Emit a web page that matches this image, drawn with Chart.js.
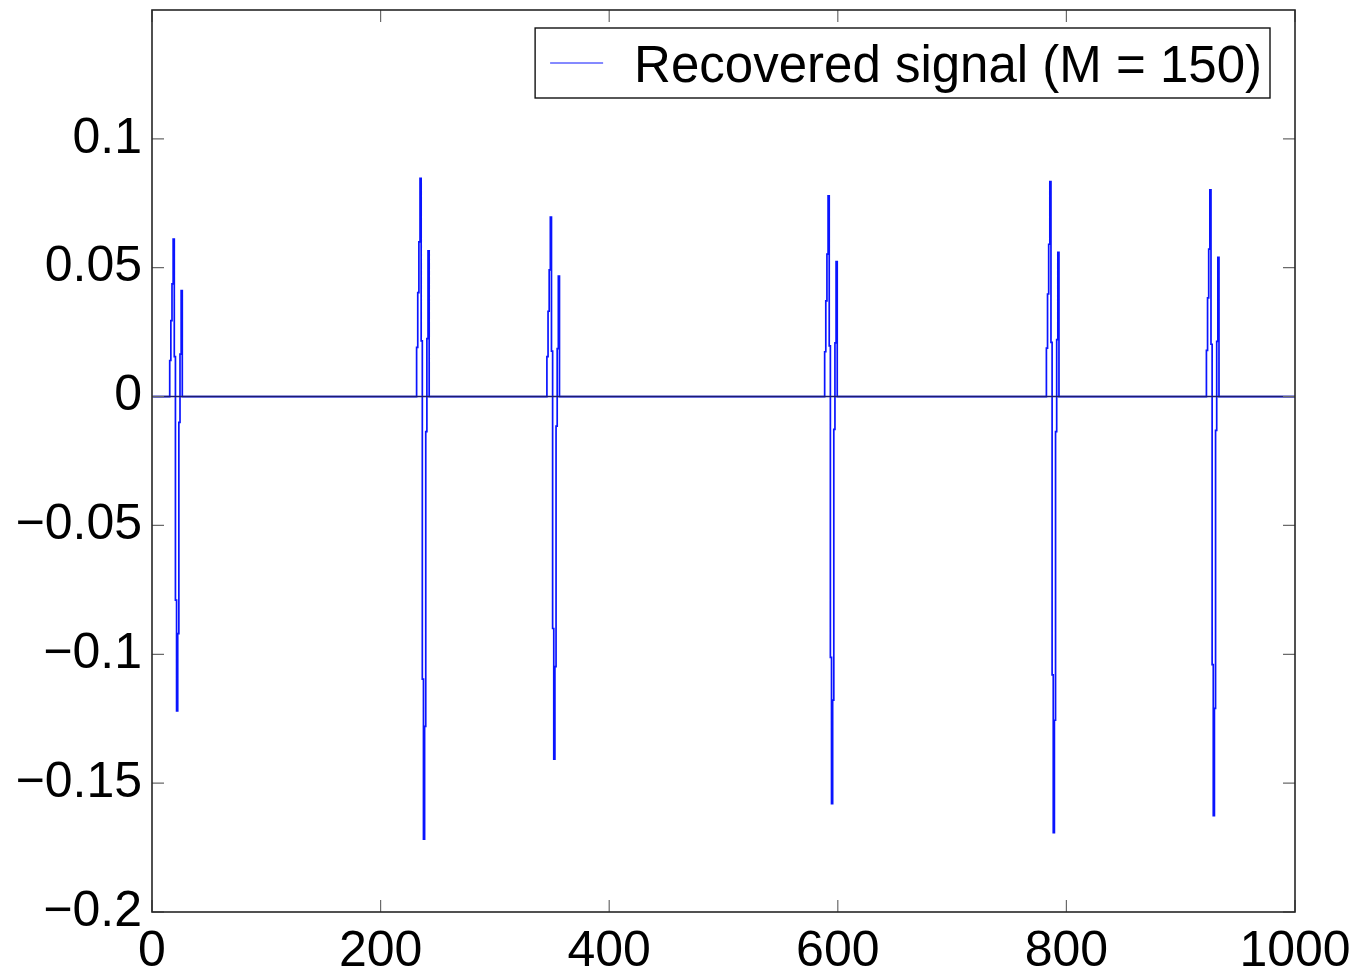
<!DOCTYPE html>
<html>
<head>
<meta charset="utf-8">
<title>Recovered signal</title>
<script src="https://cdn.jsdelivr.net/npm/chart.js@4.4.1/dist/chart.umd.min.js"></script>
<style>
    html, body { margin: 0; padding: 0; background: #fff; }
    #wrap { width: 1357px; height: 972px; }
</style>
</head>
<body>
<div id="wrap"><canvas id="signal-chart" width="1357" height="972"></canvas></div>
<script>
// Signal length and the sample where each burst begins
const SIGNAL_LENGTH = 1000;
const burstStarts = [16, 232, 346, 589, 783, 923];

// Sample values of each burst (11 consecutive samples)
const burst1 = [0.0140, 0.0295, 0.0437, 0.0611, 0.0155, -0.0790, -0.1220, -0.0920, -0.0100, 0.0165, 0.0411];
const burst2 = [0.0191, 0.0403, 0.0600, 0.0847, 0.0216, -0.1096, -0.1717, -0.1280, -0.0136, 0.0225, 0.0565];
const burst3 = [0.0155, 0.0331, 0.0492, 0.0696, 0.0176, -0.0900, -0.1407, -0.1048, -0.0115, 0.0186, 0.0467];
const burst4 = [0.0174, 0.0371, 0.0553, 0.0779, 0.0197, -0.1012, -0.1580, -0.1178, -0.0127, 0.0208, 0.0524];
const burst5 = [0.0188, 0.0398, 0.0591, 0.0834, 0.0210, -0.1080, -0.1692, -0.1256, -0.0136, 0.0221, 0.0560];
const burst6 = [0.0179, 0.0383, 0.0572, 0.0802, 0.0203, -0.1040, -0.1626, -0.1210, -0.0131, 0.0214, 0.0540];

// Axis ticks
const xTickValues = [0, 200, 400, 600, 800, 1000];
const xTickLabels = ['0', '200', '400', '600', '800', '1000'];
const yTickValues = [-0.2, -0.15, -0.1, -0.05, 0, 0.05, 0.1];
const yTickLabels = ['\u22120.2', '\u22120.15', '\u22120.1', '\u22120.05', '0', '0.05', '0.1'];

const SERIES_LABEL = 'Recovered signal (M = 150)';
const LINE_COLOR = '#0a14ff';
const FONT_FAMILY = "Helvetica, 'Liberation Sans', Arial, sans-serif";

function buildSignal() {
    const signal = new Array(SIGNAL_LENGTH).fill(0);
    const bursts = [burst1, burst2, burst3, burst4, burst5, burst6];
    bursts.forEach((burst, i) => {
        burst.forEach((v, k) => { signal[burstStarts[i] + k - 1] = v; });
    });
    return signal.map((v, i) => ({ x: i + 1, y: v }));
}

// Inward ticks on all four sides, the box frame, the zero line and the legend box
const matlabFrame = {
    id: 'matlabFrame',
    afterDatasetsDraw(chart) {
        const { ctx, chartArea: a, scales } = chart;
        const xs = scales.x, ys = scales.y;
        ctx.save();

        // dark baseline along y = 0
        const y0 = ys.getPixelForValue(0);
        ctx.strokeStyle = '#1c1c70';
        ctx.lineWidth = 1.6;
        ctx.beginPath();
        ctx.moveTo(a.left, y0);
        ctx.lineTo(a.right, y0);
        ctx.stroke();

        // tick marks
        const TICK = 12;
        ctx.strokeStyle = '#6a6a6a';
        ctx.lineWidth = 1.2;
        ctx.beginPath();
        xTickValues.forEach(v => {
            const px = xs.getPixelForValue(v);
            ctx.moveTo(px, a.bottom); ctx.lineTo(px, a.bottom - TICK);
            ctx.moveTo(px, a.top); ctx.lineTo(px, a.top + TICK);
        });
        yTickValues.forEach(v => {
            const py = ys.getPixelForValue(v);
            ctx.moveTo(a.left, py); ctx.lineTo(a.left + TICK, py);
            ctx.moveTo(a.right, py); ctx.lineTo(a.right - TICK, py);
        });
        ctx.stroke();

        // box
        ctx.strokeStyle = '#262626';
        ctx.lineWidth = 1.6;
        ctx.strokeRect(a.left, a.top, a.right - a.left, a.bottom - a.top);

        // legend
        const ds = chart.data.datasets[0];
        ctx.font = '51px ' + FONT_FAMILY;
        const textW = ctx.measureText(ds.label).width;
        const boxRight = a.right - 25;
        const boxTop = a.top + 18;
        const boxH = 70;
        const textX = boxRight - 8 - textW;
        const boxLeft = textX - 99;
        ctx.fillStyle = '#fff';
        ctx.fillRect(boxLeft, boxTop, boxRight - boxLeft, boxH);
        ctx.strokeStyle = '#111';
        ctx.lineWidth = 1.4;
        ctx.strokeRect(boxLeft, boxTop, boxRight - boxLeft, boxH);

        ctx.strokeStyle = ds.borderColor;
        ctx.lineWidth = 1;
        ctx.beginPath();
        ctx.moveTo(boxLeft + 15, boxTop + 35);
        ctx.lineTo(boxLeft + 68, boxTop + 35);
        ctx.stroke();

        ctx.fillStyle = '#000';
        ctx.textBaseline = 'middle';
        ctx.textAlign = 'left';
        ctx.fillText(ds.label, textX, boxTop + 40);
        ctx.restore();
    }
};

function initSignalChart() {
    const canvas = document.getElementById('signal-chart');
    if (!canvas || typeof Chart === 'undefined') return;

    new Chart(canvas, {
        type: 'line',
        data: {
            datasets: [{
                label: SERIES_LABEL,
                data: buildSignal(),
                borderColor: LINE_COLOR,
                borderWidth: 1.7,
                pointRadius: 0,
                stepped: 'middle',
                fill: false
            }]
        },
        options: {
            responsive: false,
            animation: false,
            layout: { padding: { top: 10, right: 62, left: 0, bottom: 0 } },
            plugins: {
                legend: { display: false },
                tooltip: { enabled: false }
            },
            scales: {
                x: {
                    type: 'linear',
                    min: 0,
                    max: 1000,
                    grid: { display: false },
                    border: { display: false },
                    afterBuildTicks: scale => { scale.ticks = xTickValues.map(v => ({ value: v })); },
                    afterFit: scale => { scale.height = 60; },
                    ticks: {
                        autoSkip: false,
                        maxRotation: 0,
                        padding: 2,
                        color: '#000',
                        font: { family: FONT_FAMILY, size: 50 },
                        callback: (v) => xTickLabels[xTickValues.indexOf(v)]
                    }
                },
                y: {
                    min: -0.2,
                    max: 0.15,
                    grid: { display: false },
                    border: { display: false },
                    afterBuildTicks: scale => { scale.ticks = yTickValues.map(v => ({ value: v })); },
                    afterFit: scale => {
                        scale.width = 152;
                        scale.paddingTop = 0;
                        scale.paddingBottom = 0;
                    },
                    ticks: {
                        autoSkip: false,
                        padding: 2,
                        color: '#000',
                        font: { family: FONT_FAMILY, size: 50 },
                        callback: (v) => yTickLabels[yTickValues.indexOf(v)]
                    }
                }
            }
        },
        plugins: [matlabFrame]
    });
}

initSignalChart();
</script>
</body>
</html>
